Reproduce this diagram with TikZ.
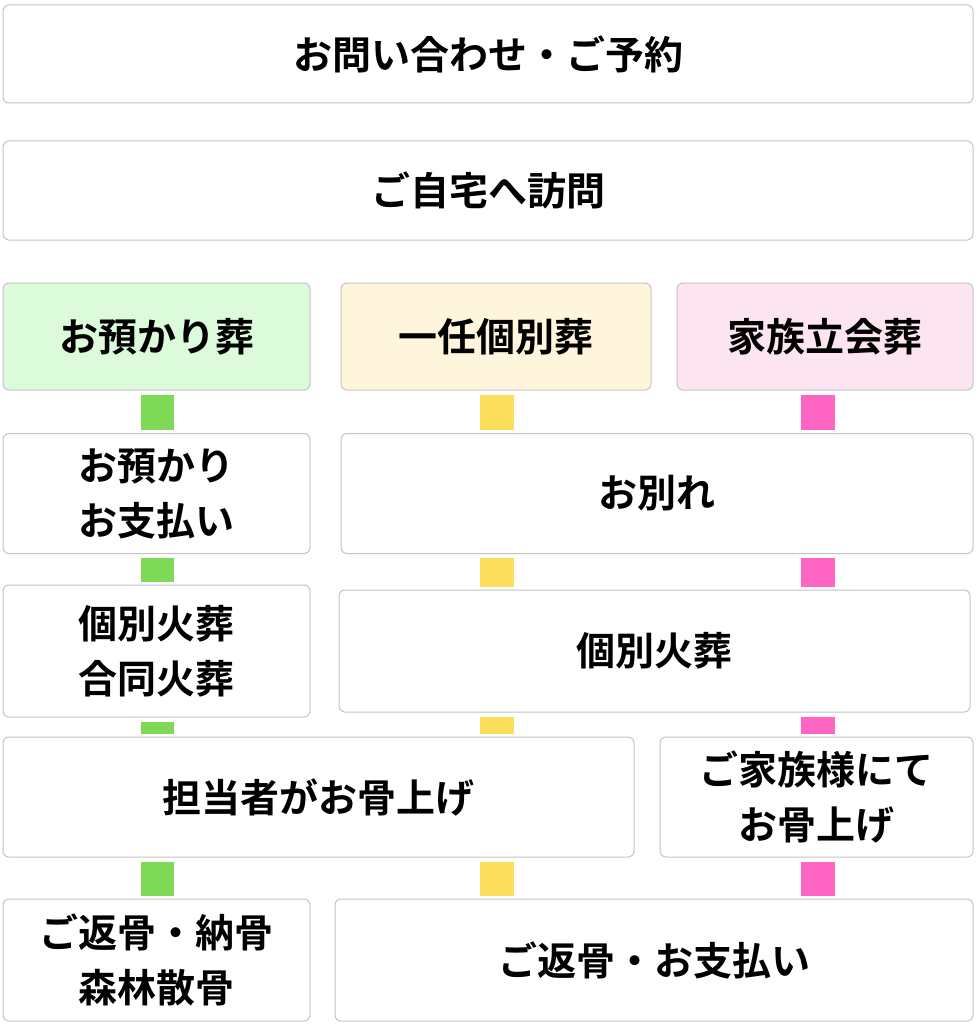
\documentclass[tikz,border=0pt]{standalone}
\usepackage{fontspec}
\setmainfont{Noto Sans CJK JP}[BoldFont={Noto Sans CJK JP Bold}]
\definecolor{bordergray}{HTML}{C4C4C4}
\definecolor{gfill}{HTML}{DBFBDB}
\definecolor{yfill}{HTML}{FFF4DC}
\definecolor{pfill}{HTML}{FDE4F1}
\definecolor{gconnc}{HTML}{7ED957}
\definecolor{yconnc}{HTML}{FDDD5C}
\definecolor{pconnc}{HTML}{FF66C4}
\tikzset{
  box/.style={draw=bordergray, line width=1pt, rounded corners=6pt, fill=white,
    align=center, inner sep=0pt, font=\fontsize{39}{55}\selectfont\bfseries},
  gconn/.style={draw=gconnc, line width=33pt, shorten <=4pt, shorten >=3pt},
  yconn/.style={draw=yconnc, line width=34pt, shorten <=4pt, shorten >=3pt},
  pconn/.style={draw=pconnc, line width=34pt, shorten <=4pt, shorten >=3pt},
}
\begin{document}
\begin{tikzpicture}[x=1pt,y=-1pt]
\useasboundingbox (0,0) rectangle (977,1024);
\fill[white] (0,0) rectangle (977,1024);
% column x positions
\coordinate (cg) at (157,0);
\coordinate (cy) at (497,0);
\coordinate (cp) at (818,0);
% rows
\node[box, minimum width=970pt, minimum height=98pt] (top) at (488,54) {お問い合わせ・ご予約};
\node[box, minimum width=970pt, minimum height=99pt] (visit) at (488,190.5) {ご自宅へ訪問};
\node[box, fill=gfill, minimum width=307pt, minimum height=107pt] (g) at (156.5,336.5) {お預かり葬};
\node[box, fill=yfill, minimum width=310pt, minimum height=107pt] (y) at (496,336.5) {一任個別葬};
\node[box, fill=pfill, minimum width=296pt, minimum height=107pt] (p) at (825,336.5) {家族立会葬};
\node[box, minimum width=307pt, minimum height=120pt] (g4) at (156.5,493.5) {お預かり\\お支払い};
\node[box, minimum width=632pt, minimum height=120pt] (r4) at (657,493.5) {お別れ};
\node[box, minimum width=307pt, minimum height=132pt] (g5) at (156.5,651) {個別火葬\\合同火葬};
\node[box, minimum width=631pt, minimum height=122pt] (r5) at (654.5,651) {個別火葬};
\node[box, minimum width=631pt, minimum height=120pt] (l6) at (318.5,797) {担当者がお骨上げ};
\node[box, minimum width=313pt, minimum height=120pt] (p6) at (816.5,797) {ご家族様にて\\お骨上げ};
\node[box, minimum width=307pt, minimum height=122pt] (g7) at (156.5,960) {ご返骨・納骨\\森林散骨};
\node[box, minimum width=638pt, minimum height=122pt] (r7) at (654,960) {ご返骨・お支払い};
% connectors green
\draw[gconn] (g.south -| cg) -- (g4.north -| cg);
\draw[gconn] (g4.south -| cg) -- (g5.north -| cg);
\draw[gconn] (g5.south -| cg) -- (l6.north -| cg);
\draw[gconn] (l6.south -| cg) -- (g7.north -| cg);
% connectors yellow
\draw[yconn] (y.south -| cy) -- (r4.north -| cy);
\draw[yconn] (r4.south -| cy) -- (r5.north -| cy);
\draw[yconn] (r5.south -| cy) -- (l6.north -| cy);
\draw[yconn] (l6.south -| cy) -- (r7.north -| cy);
% connectors pink
\draw[pconn] (p.south -| cp) -- (r4.north -| cp);
\draw[pconn] (r4.south -| cp) -- (r5.north -| cp);
\draw[pconn] (r5.south -| cp) -- (p6.north -| cp);
\draw[pconn] (p6.south -| cp) -- (r7.north -| cp);
\end{tikzpicture}
\end{document}
